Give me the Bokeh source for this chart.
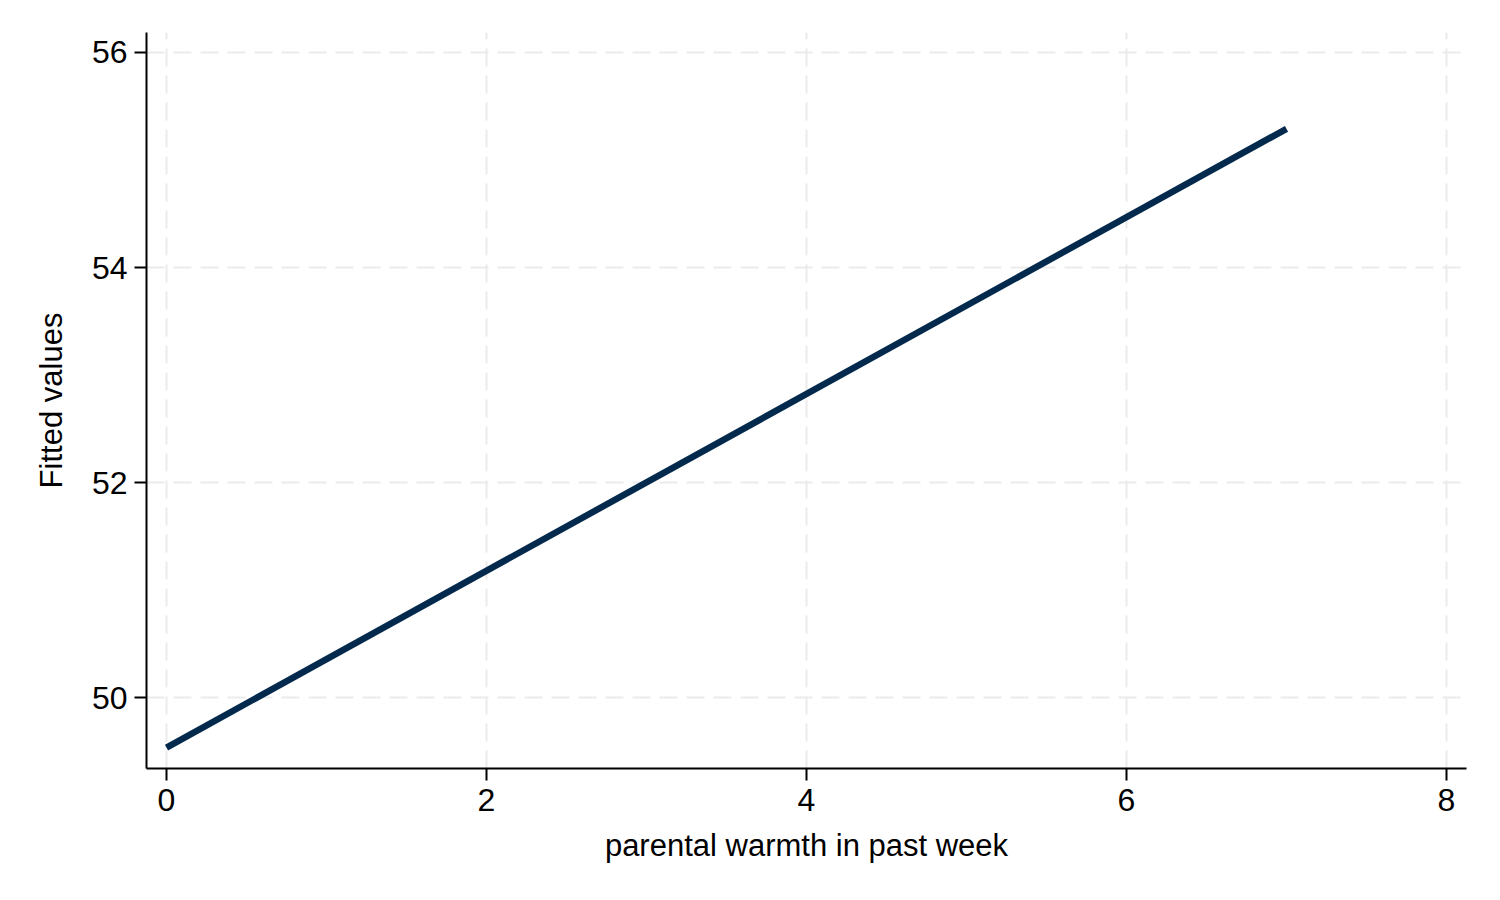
from bokeh.plotting import figure
from bokeh.models import FixedTicker
from bokeh.embed import file_html
from bokeh.resources import INLINE

# fitted line: parental warmth vs fitted values
warmth = [0, 7]
fitted = [49.535, 55.29]

x_ticks = [0, 2, 4, 6, 8]
y_ticks = [50, 52, 54, 56]

FONT = "Liberation Sans"
LINE_COLOR = "#032a4d"

p = figure(width=1492, height=892,
           x_range=(-0.125, 8.125), y_range=(49.34, 56.186),
           output_backend="svg", toolbar_location=None,
           min_border_left=146, min_border_right=26,
           min_border_top=32, min_border_bottom=124)

p.line(warmth, fitted, line_color=LINE_COLOR, line_width=6.5)

p.outline_line_color = None
p.background_fill_color = "white"

for ax, ticks in ((p.xaxis[0], x_ticks), (p.yaxis[0], y_ticks)):
    ax.ticker = FixedTicker(ticks=ticks)
    ax.minor_tick_line_color = None
    ax.major_tick_in = 0
    ax.major_tick_out = 12
    ax.major_tick_line_width = 2
    ax.axis_line_width = 2
    ax.axis_line_color = "black"
    ax.major_tick_line_color = "black"
    ax.major_label_text_font = FONT
    ax.major_label_text_font_size = "32px"
    ax.major_label_text_color = "black"
    ax.axis_label_text_font = FONT
    ax.axis_label_text_font_size = "31px"
    ax.axis_label_text_font_style = "normal"
    ax.axis_label_text_color = "black"

p.xaxis.axis_label = "parental warmth in past week"
p.yaxis.axis_label = "Fitted values"
p.xaxis.major_label_standoff = 8
p.xaxis.axis_label_standoff = 14
p.yaxis.major_label_standoff = 7
p.yaxis.axis_label_standoff = 20
p.yaxis.major_label_orientation = "horizontal"

for g in (p.xgrid[0], p.ygrid[0]):
    g.grid_line_color = "#ebebeb"
    g.grid_line_width = 2
    g.grid_line_dash = "18 9"

open("out.html", "w").write(file_html(p, INLINE))
